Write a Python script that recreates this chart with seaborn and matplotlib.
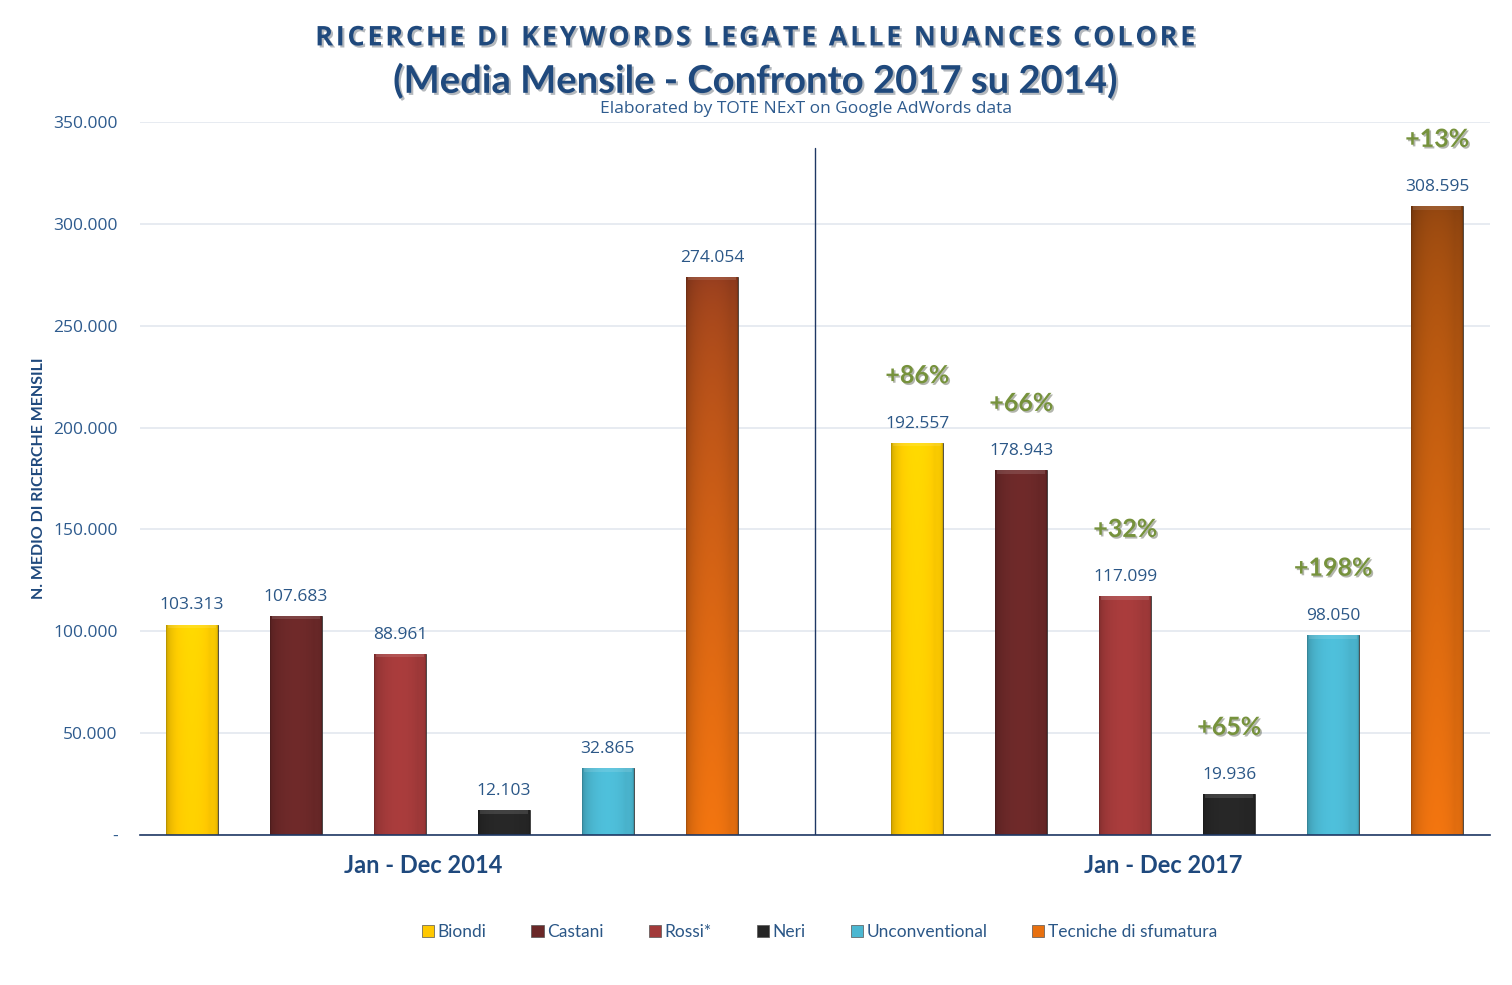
import numpy as np
import pandas as pd
import seaborn as sns
import matplotlib.pyplot as plt
import matplotlib.patheffects as pe
from matplotlib.colors import to_rgb
from matplotlib.patches import Patch

# data
periods = ['Jan - Dec 2014', 'Jan - Dec 2017']
series = ['Biondi', 'Castani', 'Rossi*', 'Neri', 'Unconventional', 'Tecniche di sfumatura']
val_2014 = [103313, 107683, 88961, 12103, 32865, 274054]
val_2017 = [192557, 178943, 117099, 19936, 98050, 308595]
colors = ['#FFC800', '#6A2828', '#A23A3A', '#262626', '#4BB7D1', '#E8700F']
top_colors = ['#FFD000', '#6A2828', '#A23A3A', '#262626', '#4BB7D1', '#8E3A1E']

df = pd.DataFrame({
    'period': [periods[0]] * 6 + [periods[1]] * 6,
    'series': series * 2,
    'value': val_2014 + val_2017,
})

sns.set_theme(style='white')
plt.rcParams['font.family'] = ['Lato', 'DejaVu Sans']
blue = '#1F497D'
tick_blue = '#2E5B8E'

fig = plt.figure(figsize=(15.12, 9.85), dpi=100)
ax = fig.add_axes([0.0926, 0.1523, 0.8928, 0.7238])

sns.barplot(data=df, x='period', y='value', hue='series', hue_order=series,
            palette=colors, width=0.86, gap=0.5, legend=False, ax=ax)

ax.set_ylim(0, 350000)
ax.set_xlim(-0.43, 1.431)
ax.set_yticks(np.arange(0, 350001, 50000))
ax.set_yticklabels(['-'] + [f'{v:,}'.replace(',', '.') for v in range(50000, 350001, 50000)],
                   color=tick_blue, fontsize=12.5, family=['Open Sans', 'DejaVu Sans'])
ax.yaxis.grid(True, color='#E3E8EF', lw=1.2)
ax.set_axisbelow(True)
for s in ['top', 'right', 'left']:
    ax.spines[s].set_visible(False)
ax.spines['bottom'].set_color('#1F3864')
ax.spines['bottom'].set_linewidth(1.2)
ax.tick_params(axis='y', length=0, pad=16)
ax.tick_params(axis='x', length=0, pad=14)
ax.set_xticks([-0.04, 0.98])
ax.set_xticklabels(periods, fontsize=17, fontweight='bold', color=blue)
ax.set_xlabel('')
ax.set_ylabel('N. MEDIO DI RICERCHE MENSILI', fontsize=11.5, fontweight='bold', color=blue, labelpad=5)

# divider between the two periods
ax.axvline(0.5, ymin=0, ymax=0.9635, color='#1F3864', lw=1)

# gradient shading on the bars
def shade(rgb_top, rgb_bot, nx=60, ny=200):
    u = np.linspace(0, 1, nx)
    prof = 0.72 + 0.33 * np.sin(np.pi * u) ** 0.35
    prof[-int(nx * 0.18):] *= np.linspace(1.0, 1.12, int(nx * 0.18))
    t = np.linspace(0, 1, ny)[:, None, None] ** 0.6
    base = np.array(rgb_top)[None, None, :] * (1 - t) + np.array(rgb_bot)[None, None, :] * t
    img = base * prof[None, :, None]
    return np.clip(img, 0, 1)

for k, cont in enumerate(ax.containers):
    for j, bar in enumerate(cont):
        x0, w = bar.get_x(), bar.get_width()
        h = bar.get_height()
        bar.set_edgecolor('#3A3A3A')
        bar.set_linewidth(0.6)
        top = to_rgb(top_colors[k])
        if k == 5 and j == 1:
            top = to_rgb('#8A4210')
        img = shade(top, to_rgb(colors[k]))
        im = ax.imshow(img, extent=[x0, x0 + w, 0, h], origin='upper', aspect='auto', zorder=2.5)
        im.set_clip_path(bar)
        # top bevel
        ax.fill_between([x0 + w * 0.04, x0 + w * 0.96], h - 1800, h, color='white', alpha=0.12, zorder=2.6, lw=0)

ax.set_xlim(-0.43, 1.431)
ax.set_ylim(0, 350000)

# value and growth labels
for k, cont in enumerate(ax.containers):
    for j, bar in enumerate(cont):
        h = bar.get_height()
        xc = bar.get_x() + bar.get_width() / 2
        ax.annotate(f'{int(h):,}'.replace(',', '.'), (xc, h), xytext=(0, 8), textcoords='offset points',
                    ha='center', va='bottom', fontsize=12.5, color='#2B5787',
                    family=['Open Sans', 'DejaVu Sans'])
        if j == 1:
            pct = round((val_2017[k] / val_2014[k] - 1) * 100)
            ax.annotate(f'+{pct}%', (xc, h), xytext=(0, 40), textcoords='offset points',
                        ha='center', va='bottom', fontsize=18, fontweight='bold', color='#76923C',
                        path_effects=[pe.withSimplePatchShadow(offset=(1.2, -1.2), alpha=0.35)])

shadow = [pe.withSimplePatchShadow(offset=(1.5, -1.5), alpha=0.3)]
title1 = 'RICERCHE DI KEYWORDS LEGATE ALLE NUANCES COLORE'
fig.text(0.5, 0.961, '\u200a'.join(title1), ha='center', va='center',
         fontsize=19.5, fontweight='bold', color=blue, path_effects=shadow,
         family=['Open Sans', 'DejaVu Sans'])
fig.text(0.5, 0.918, '(Media Mensile - Confronto 2017 su 2014)', ha='center', va='center',
         fontsize=27.5, fontweight='bold', color=blue, path_effects=shadow)
fig.text(0.533, 0.889, 'Elaborated by TOTE NExT on Google AdWords data', ha='center', va='center',
         fontsize=12.5, color='#2E5B8E', family=['Open Sans', 'DejaVu Sans'])

handles = [Patch(facecolor=c, edgecolor='#555555', lw=0.5) for c in colors]
fig.legend(handles, series, loc='center', bbox_to_anchor=(0.542, 0.054), ncol=6, frameon=False,
           fontsize=12.5, handlelength=0.7, handleheight=0.7, handletextpad=0.2, columnspacing=2.6,
           labelcolor='#2B5787')

fig.savefig('out.png', dpi=100)
